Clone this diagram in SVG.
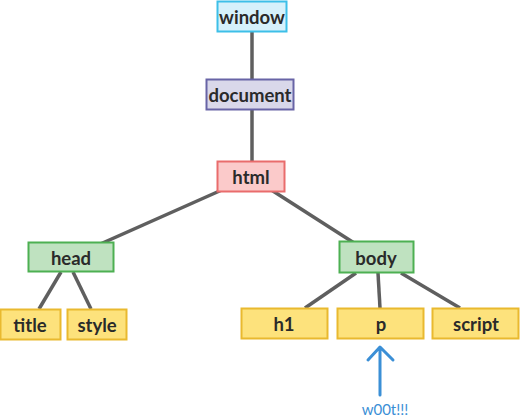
<svg xmlns="http://www.w3.org/2000/svg" width="520" height="419" viewBox="0 0 520 419">
<style>
.e{stroke:#5f5f5f;stroke-width:3.5;fill:none}
.b{stroke-width:2}
.t{font-family:Lato,"Noto Sans",sans-serif;font-size:18.5px;font-weight:bold;fill:#2a2a2a;text-anchor:middle}
.cy{fill:#d6f1fb;stroke:#3dbfe8}
.pu{fill:#d9d8ea;stroke:#6864a6}
.rd{fill:#fbcaca;stroke:#e96c6c}
.gr{fill:#bfe2c0;stroke:#4db052}
.ye{fill:#fde27c;stroke:#e9b92f}
</style>
<rect width="520" height="419" fill="#fff"/>
<g id="connectors">
<line class="e" x1="252" y1="32" x2="252" y2="80"/>
<line class="e" x1="252" y1="110" x2="252" y2="162"/>
<line class="e" x1="251" y1="177" x2="71" y2="257"/>
<line class="e" x1="251" y1="177" x2="376" y2="257"/>
<line class="e" x1="61" y1="272" x2="39" y2="309"/>
<line class="e" x1="73" y1="272" x2="91" y2="309"/>
<line class="e" x1="356" y1="273" x2="305" y2="308"/>
<line class="e" x1="378" y1="273" x2="380" y2="308"/>
<line class="e" x1="401" y1="273" x2="460" y2="308"/>
</g>
<g id="window"><rect class="b cy" x="217.5" y="1.5" width="69" height="30"/><text class="t" x="252" y="24">window</text></g>
<g id="document"><rect class="b pu" x="206.5" y="79.5" width="87" height="30"/><text class="t" x="250" y="102">document</text></g>
<g id="html"><rect class="b rd" x="217.5" y="161.5" width="67" height="30"/><text class="t" x="251" y="184">html</text></g>
<g id="head"><rect class="b gr" x="28.5" y="242.5" width="85" height="29"/><text class="t" x="71" y="264.5">head</text></g>
<g id="body"><rect class="b gr" x="339.5" y="241.5" width="74" height="31"/><text class="t" x="376" y="264.5">body</text></g>
<g id="title"><rect class="b ye" x="0.5" y="309.5" width="60" height="30"/><text class="t" x="30" y="332">title</text></g>
<g id="style"><rect class="b ye" x="67.5" y="309.5" width="59" height="30"/><text class="t" x="97" y="332">style</text></g>
<g id="h1"><rect class="b ye" x="241.5" y="308.5" width="86" height="30"/><text class="t" x="284" y="331">h1</text></g>
<g id="p"><rect class="b ye" x="337.5" y="308.5" width="86" height="30"/><text class="t" x="381" y="331">p</text></g>
<g id="script"><rect class="b ye" x="432.5" y="308.5" width="86" height="30"/><text class="t" x="476" y="331">script</text></g>
<g id="annotation">
<path d="M380 395 V348 M368 360 L380 347 L393 360" fill="none" stroke="#3b8fd6" stroke-width="3" stroke-linecap="round" stroke-linejoin="round"/>
<text x="385" y="415" font-family="Lato,Noto Sans,sans-serif" font-size="15" fill="#3b8fd6" text-anchor="middle">w00t!!!</text>
</g>
</svg>
